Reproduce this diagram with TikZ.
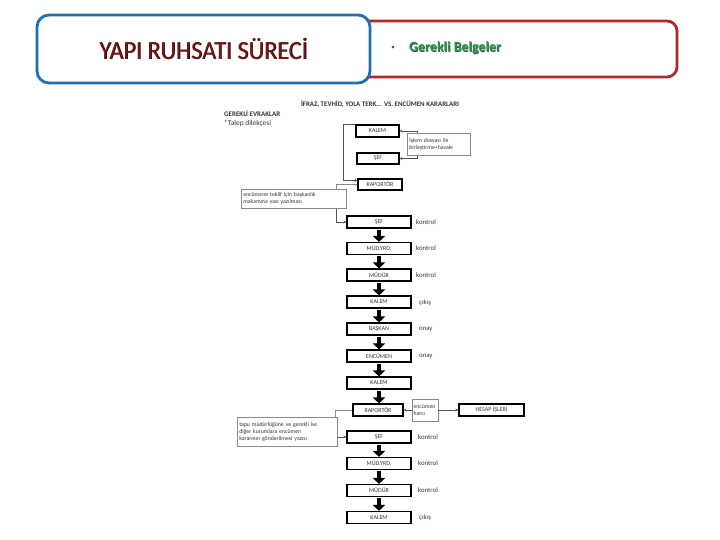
\documentclass[tikz,border=0pt]{standalone}
\usepackage{fontspec}
\setmainfont{Carlito}
\usetikzlibrary{arrows.meta,shadows}
\definecolor{hblue}{HTML}{1F6FAE}
\definecolor{hred}{HTML}{B0282C}
\definecolor{tred}{HTML}{7A1616}
\definecolor{tgreen}{HTML}{1E9A48}
\definecolor{lgray}{HTML}{8A8A8A}
\definecolor{cgray}{HTML}{555555}
\begin{document}
\begin{tikzpicture}[x=1pt,y=-1pt,
  stepbox/.style={draw=black,line width=1.1pt,minimum width=64pt,minimum height=12pt,inner sep=0pt,
    font=\fontsize{6}{6}\selectfont,text=black!80},
  infobox/.style={draw=lgray,fill=white,line width=0.6pt,inner sep=2pt,align=left,anchor=north west,
    font=\fontsize{5.8}{7}\selectfont,text=black!80,
    drop shadow={shadow xshift=0.8pt,shadow yshift=-0.8pt,fill=black!35,opacity=0.6}},
  sidelabel/.style={anchor=west,font=\fontsize{6.8}{7}\selectfont,text=black!80,inner sep=0pt},
  conn/.style={draw=cgray,line width=0.6pt,-{Stealth[length=3pt,width=3pt]}},
  plainconn/.style={draw=lgray,line width=0.6pt},
  bigarrow/.style={draw=black,line width=4.5pt,-{Triangle[length=6pt,width=12pt]},shorten <=1pt},
  smalltext/.style={anchor=west,font=\fontsize{7}{7}\selectfont,text=black!80,inner sep=0pt},
  headtitle/.style={font=\fontsize{26}{26}\selectfont,xscale=0.93}
]
\useasboundingbox (0,0) rectangle (720,540);

% header
\draw[hred,line width=2.8pt,rounded corners=10pt] (300,21) rectangle (677,77);
\draw[hblue,line width=2.8pt,fill=white,rounded corners=12pt] (37,15) rectangle (370,83);
\node[headtitle,text=black] (titleshadow) at (204.2,49.3) {YAPI RUHSATI SÜRECİ};
\node[headtitle,text=tred] (title) at (203.5,48.5) {YAPI RUHSATI SÜRECİ};
\node[font=\fontsize{7}{7}\selectfont,text=black!70] (bullet) at (393,48) {\textbullet};
\node[anchor=west,inner sep=0pt,font=\bfseries\fontsize{14}{14}\selectfont,text=black!70] (gbshadow) at (409.6,48.6) {Gerekli Belgeler};
\node[anchor=west,inner sep=0pt,font=\bfseries\fontsize{14}{14}\selectfont,text=tgreen] (gb) at (409,48) {Gerekli Belgeler};

% flowchart headings
\node[font=\bfseries\fontsize{6.9}{7}\selectfont,text=black!80] (fhead) at (380,104) {İFRAZ, TEVHİD, YOLA TERK... VS. ENCÜMEN KARARLARI};
\node[smalltext,font=\bfseries\fontsize{7}{7}\selectfont] (evr) at (224,114) {GEREKLİ EVRAKLAR};
\node[smalltext,font=\fontsize{7.4}{7}\selectfont] (talep) at (224,123) {*Talep dilekçesi};

% top part
\node[stepbox,minimum width=43pt] (kalem1) at (377.5,131) {KALEM};
\node[stepbox,minimum width=42pt,minimum height=11pt] (sef1) at (378,158.5) {ŞEF};
\node[infobox,text width=59pt,minimum height=22pt] (info1) at (407,133) {İşlem dosyası ile\\birleştirme+havale};
\node[stepbox,minimum width=44pt,minimum height=11pt] (rap1) at (380,184.5) {RAPORTÖR};
\node[infobox,text width=101pt,minimum height=19pt] (info2) at (241,189) {encümene teklif için başkanlık\\makamına yazı yazılması};

% main chain 1
\node[stepbox] (sef2) at (379,222) {ŞEF};
\node[stepbox] (muy1) at (379,248.5) {MÜD.YRD.};
\node[stepbox] (mud1) at (379,275) {MÜDÜR};
\node[stepbox] (kalem2) at (379,302) {KALEM};
\node[stepbox] (baskan) at (379,329) {BAŞKAN};
\node[stepbox] (encumen) at (379,356) {ENCÜMEN};
\node[stepbox] (kalem3) at (379,383) {KALEM};
\node[stepbox,minimum width=50pt] (rap2) at (378,410) {RAPORTÖR};

\draw[conn] (kalem1.north west) -- ++(-12,0) |- ([yshift=-2]rap1.north west);
\draw[conn] ([xshift=10]info1.north west) |- (kalem1.east);
\draw[conn] ([xshift=10]info1.south west) |- (sef1.east);
\draw[plainconn] (rap1.west) -| ([xshift=-10]info2.north east);
\draw[conn] ([xshift=-10]info2.south east) |- (sef2.west);

\node[sidelabel] (l1) at (416,222) {kontrol};
\node[sidelabel] (l2) at (416,248.5) {kontrol};
\node[sidelabel] (l3) at (416,275) {kontrol};
\node[sidelabel] (l4) at (419,302.5) {çıkış};
\node[sidelabel] (l5) at (419,329.5) {onay};
\node[sidelabel] (l6) at (419,356.5) {onay};

\draw[bigarrow] (sef2.south) -- (muy1.north);
\draw[bigarrow] (muy1.south) -- (mud1.north);
\draw[bigarrow] (mud1.south) -- (kalem2.north);
\draw[bigarrow] (kalem2.south) -- (baskan.north);
\draw[bigarrow] (baskan.south) -- (encumen.north);
\draw[bigarrow] (encumen.south) -- (kalem3.north);
\draw[bigarrow] (kalem3.south) -- ([xshift=1]rap2.north);

% raportör branch
\node[infobox,anchor=center,text width=23pt,minimum height=22pt,inner sep=1.5pt] (harc) at (425,410) {encümen\\harcı};
\node[stepbox,minimum width=65pt] (hesap) at (491.5,410) {HESAP İŞLERİ};
\draw[conn] (harc.west) -- (rap2.east);
\draw[conn] (harc.east) -- (hesap.west);

\node[infobox,text width=96pt,minimum height=29pt] (info3) at (237,417) {tapu müdürlüğüne ve gerekli ise\\diğer kurumlara encümen\\kararının gönderilmesi yazısı};
\draw[plainconn] (rap2.west) -| ([xshift=-2]info3.north east);

% main chain 2
\node[stepbox] (sef3) at (379,437) {ŞEF};
\node[stepbox] (muy2) at (379,463.5) {MÜD.YRD.};
\node[stepbox] (mud2) at (379,490.5) {MÜDÜR};
\node[stepbox] (kalem4) at (379,517.5) {KALEM};
\draw[conn] (info3.east |- sef3.west) -- (sef3.west);

\node[sidelabel] (l7) at (418,437) {kontrol};
\node[sidelabel] (l8) at (418,463.5) {kontrol};
\node[sidelabel] (l9) at (418,490.5) {kontrol};
\node[sidelabel] (l10) at (419,518) {çıkış};

\draw[bigarrow] (sef3.south) -- (muy2.north);
\draw[bigarrow] (muy2.south) -- (mud2.north);
\draw[bigarrow] (mud2.south) -- (kalem4.north);
\end{tikzpicture}
\end{document}
